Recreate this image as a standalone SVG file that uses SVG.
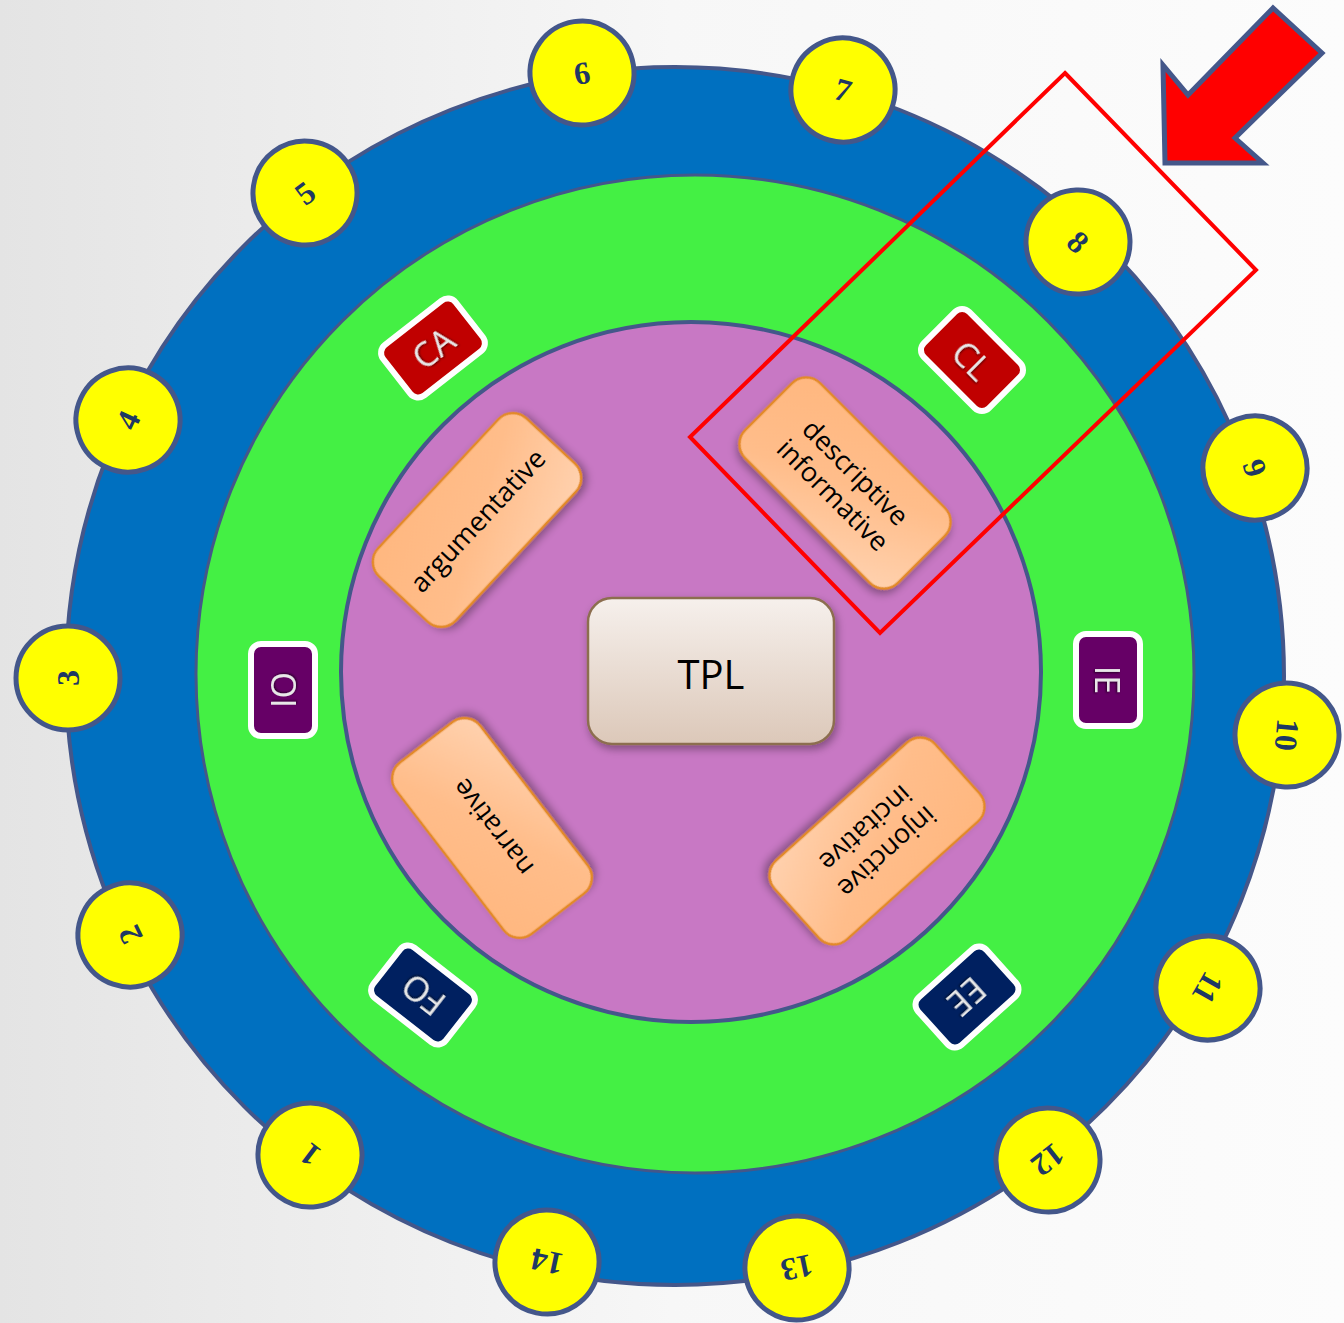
<svg xmlns="http://www.w3.org/2000/svg" width="1344" height="1323" viewBox="0 0 1344 1323">
<defs>
<linearGradient id="bg" x1="0" y1="0" x2="1" y2="0">
<stop offset="0" stop-color="#e4e4e4"/><stop offset="0.5" stop-color="#f7f7f7"/><stop offset="1" stop-color="#fcfcfc"/>
</linearGradient>
<linearGradient id="peach" x1="0" y1="0" x2="1" y2="1">
<stop offset="0" stop-color="#ffb77f"/><stop offset="0.5" stop-color="#ffbd8a"/><stop offset="1" stop-color="#ffd2b0"/>
</linearGradient>
<linearGradient id="tplg" x1="0" y1="0" x2="0" y2="1">
<stop offset="0" stop-color="#f6f0ec"/><stop offset="1" stop-color="#dcc8b9"/>
</linearGradient>
<filter id="sh" x="-20%" y="-20%" width="140%" height="150%">
<feDropShadow dx="2" dy="4" stdDeviation="4" flood-color="#000" flood-opacity="0.35"/>
</filter>
<filter id="tsh" x="-20%" y="-20%" width="140%" height="140%">
<feDropShadow dx="1" dy="1" stdDeviation="0.8" flood-color="#000" flood-opacity="0.6"/>
</filter>
<style>
.num{fill:#ffff00;stroke:#44578a;stroke-width:5}
.numt{font-family:"Liberation Serif",serif;font-weight:bold;font-size:32px;fill:#1f3864;text-anchor:middle;dominant-baseline:central}
.badge{stroke:#ffffff;stroke-width:6}
.badget{font-family:"Open Sans","Liberation Sans",sans-serif;font-size:34px;fill:#e8e8e8;text-anchor:middle;dominant-baseline:central}
.box{fill:url(#peach);stroke:#e38a26;stroke-width:2.5}
.boxt{font-family:"Open Sans","Liberation Sans",sans-serif;font-size:27px;fill:#000;text-anchor:middle;dominant-baseline:central}
</style>
</defs>
<rect width="1344" height="1323" fill="url(#bg)"/>
<g id="rings">
<circle cx="675" cy="676" r="609" fill="#0070c0" stroke="#44578a" stroke-width="4"/>
<circle cx="695" cy="674" r="499" fill="#44f044" stroke="#44578a" stroke-width="3"/>
<circle cx="691" cy="672" r="350" fill="#c878c4" stroke="#44578a" stroke-width="4"/>
</g>
<g id="numbers">
<g id="n1" transform="translate(310,1155) rotate(217)"><circle class="num" r="52"/><text class="numt">1</text></g>
<g id="n2" transform="translate(130,935) rotate(244)"><circle class="num" r="52"/><text class="numt">2</text></g>
<g id="n3" transform="translate(68,678) rotate(-90)"><circle class="num" r="52"/><text class="numt">3</text></g>
<g id="n4" transform="translate(128,420) rotate(-65)"><circle class="num" r="52"/><text class="numt">4</text></g>
<g id="n5" transform="translate(305,193) rotate(-37)"><circle class="num" r="52"/><text class="numt">5</text></g>
<g id="n6" transform="translate(582,73) rotate(-9)"><circle class="num" r="52"/><text class="numt">6</text></g>
<g id="n7" transform="translate(843,90) rotate(16)"><circle class="num" r="52"/><text class="numt">7</text></g>
<g id="n8" transform="translate(1078,242) rotate(43)"><circle class="num" r="52"/><text class="numt">8</text></g>
<g id="n9" transform="translate(1255,468) rotate(70)"><circle class="num" r="52"/><text class="numt">9</text></g>
<g id="n10" transform="translate(1287,735) rotate(95)"><circle class="num" r="52"/><text class="numt">10</text></g>
<g id="n11" transform="translate(1208,988) rotate(120)"><circle class="num" r="52"/><text class="numt">11</text></g>
<g id="n12" transform="translate(1048,1160) rotate(142)"><circle class="num" r="52"/><text class="numt">12</text></g>
<g id="n13" transform="translate(797,1268) rotate(168)"><circle class="num" r="52"/><text class="numt">13</text></g>
<g id="n14" transform="translate(547,1262) rotate(192)"><circle class="num" r="52"/><text class="numt">14</text></g>
</g>
<g id="badges">
<g id="CA" transform="translate(433,348) rotate(-38)"><rect class="badge" x="-46" y="-32" width="92" height="64" rx="10" fill="#c00000"/><text class="badget" filter="url(#tsh)">CA</text></g>
<g id="CL" transform="translate(972,360) rotate(45)"><rect class="badge" x="-46" y="-32" width="92" height="64" rx="10" fill="#c00000"/><text class="badget" filter="url(#tsh)">CL</text></g>
<g id="IO" transform="translate(283,690) rotate(-90)"><rect class="badge" x="-46" y="-32" width="92" height="64" rx="10" fill="#660066"/><text class="badget" filter="url(#tsh)">IO</text></g>
<g id="IE" transform="translate(1108,680) rotate(90)"><rect class="badge" x="-46" y="-32" width="92" height="64" rx="10" fill="#660066"/><text class="badget" filter="url(#tsh)">IE</text></g>
<g id="FO" transform="translate(423,995) rotate(218)"><rect class="badge" x="-46" y="-32" width="92" height="64" rx="10" fill="#002060"/><text class="badget" filter="url(#tsh)">FO</text></g>
<g id="EE" transform="translate(967,997) rotate(138)"><rect class="badge" x="-46" y="-32" width="92" height="64" rx="10" fill="#002060"/><text class="badget" filter="url(#tsh)">EE</text></g>
</g>
<g id="types">
<g id="argumentative" transform="translate(477,520) rotate(-47)"><rect class="box" filter="url(#sh)" x="-108" y="-53" width="216" height="106" rx="20"/><text class="boxt">argumentative</text></g>
<g id="descriptive" transform="translate(845,483) rotate(45)"><rect class="box" filter="url(#sh)" x="-108" y="-53" width="216" height="106" rx="20"/><text class="boxt" y="-16">descriptive</text><text class="boxt" y="16">informative</text></g>
<g id="narrative" transform="translate(492,828) rotate(-127.6)"><rect class="box" filter="url(#sh)" x="-108" y="-53" width="216" height="106" rx="20"/><text class="boxt">narrative</text></g>
<g id="injonctive" transform="translate(877,841) rotate(138)"><rect class="box" filter="url(#sh)" x="-108" y="-53" width="216" height="106" rx="20"/><text class="boxt" y="-16">injonctive</text><text class="boxt" y="16">incitative</text></g>
</g>
<g id="TPL">
<rect x="588" y="598" width="246" height="146" rx="24" fill="url(#tplg)" stroke="#8c6e50" stroke-width="2.5" filter="url(#sh)"/>
<text x="711" y="673" font-family="'Open Sans','Liberation Sans',sans-serif" font-size="40" fill="#000" text-anchor="middle" dominant-baseline="central">TPL</text>
</g>
<g id="connectors">
<polygon id="highlight" points="1065,73 1256,270 880,633 690,437" fill="none" stroke="#ff0000" stroke-width="4"/>
<polygon id="arrow" points="1163,65 1188,95 1273,8 1322,53 1235,138 1263,163 1165,163" fill="#ff0000" stroke="#44578a" stroke-width="5" stroke-linejoin="miter"/>
</g>
</svg>
